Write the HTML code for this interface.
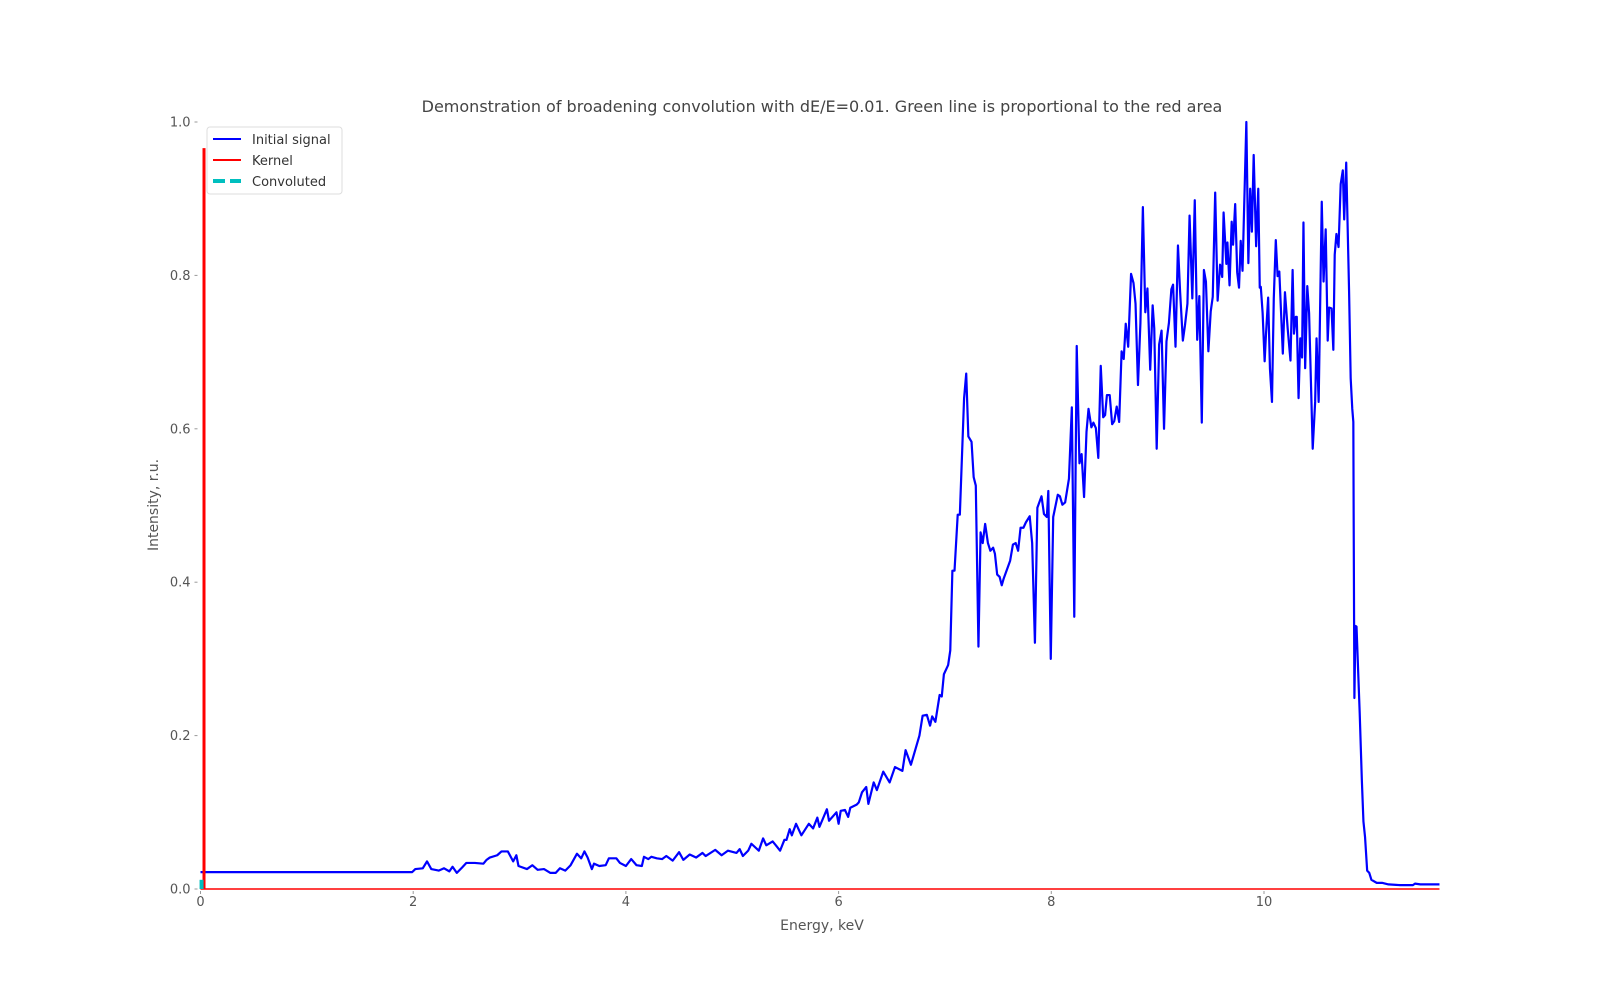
<!DOCTYPE html>
<html><head><meta charset="utf-8">
<style>
html,body{margin:0;padding:0;background:#fff;}
svg{display:block;font-family:"DejaVu Sans","Liberation Sans",sans-serif;}
</style></head>
<body>
<svg id="chart" width="1600" height="1000" viewBox="0 0 1600 1000">
<text x="822" y="112" text-anchor="middle" font-size="16" fill="#444">Demonstration of broadening convolution with dE/E=0.01. Green line is proportional to the red area</text>
<text x="822" y="930" text-anchor="middle" font-size="14" fill="#555">Energy, keV</text>
<text transform="translate(158,505) rotate(-90)" text-anchor="middle" font-size="14" fill="#555">Intensity, r.u.</text>
<g id="axes"></g>
<g id="series"></g>
<g id="legend">
 <rect x="207" y="127" width="135" height="67" rx="3" fill="#fff" fill-opacity="0.85" stroke="#ddd"/>
 <g>
  <line x1="213" y1="139" x2="241" y2="139" stroke="#0000ff" stroke-width="2"/>
  <text x="252" y="144" font-size="13" fill="#333">Initial signal</text>
 </g>
 <g>
  <line x1="213" y1="160" x2="241" y2="160" stroke="#ff0000" stroke-width="2"/>
  <text x="252" y="165" font-size="13" fill="#333">Kernel</text>
 </g>
 <g>
  <line x1="213" y1="181" x2="241" y2="181" stroke="#00bfbf" stroke-width="4" stroke-dasharray="12,5"/>
  <text x="252" y="186" font-size="13" fill="#333">Convoluted</text>
 </g>
</g>
</svg>
<script>
const energy = [0,1.99,2.02,2.09,2.13,2.17,2.24,2.29,2.34,2.37,2.41,2.46,2.50,2.58,2.66,2.69,2.72,2.79,2.83,2.89,2.94,2.97,2.99,3.07,3.12,3.17,3.23,3.29,3.34,3.38,3.43,3.48,3.54,3.58,3.61,3.64,3.68,3.70,3.75,3.81,3.84,3.91,
3.944,4.00,4.05,4.10,4.15,4.17,4.21,4.24,4.29,4.34,4.38,4.44,4.50,4.54,4.60,4.66,4.72,4.75,4.84,4.90,4.96,5.04,5.07,5.10,5.15,5.18,5.25,5.29,5.32,5.38,5.41,5.45,5.49,5.51,5.54,5.56,5.60,5.65,5.72,5.76,5.80,5.82,5.89,5.91,5.98,6.00,6.02,6.06,6.09,6.11,6.17,6.19,6.22,6.26,6.28,6.33,6.36,6.42,6.48,6.53,6.60,6.63,6.68,6.76,6.79,6.83,6.86,6.88,6.91,6.95,6.97,6.99,7.03,7.05,
7.07,7.09,7.12,7.14,7.18,7.20,7.22,7.25,7.27,7.29,7.315,7.335,7.355,7.378,7.404,7.427,7.453,7.47,7.491,7.514,7.534,7.553,7.613,7.639,7.665,7.688,7.711,7.738,7.761,7.797,7.82,7.846,7.869,7.908,7.931,7.958,7.972,7.995,8.018,8.061,8.081,8.104,8.13,8.166,8.193,8.216,8.239,8.265,8.285,8.308,8.331,8.35,8.377,8.396,8.419,8.442,8.465,8.488,8.506,8.523,8.549,8.572,8.592,8.615,8.638,8.661,8.681,8.70,8.723,8.75,8.773,8.792,8.815,8.838,8.861,8.884,8.904,8.93,8.953,8.968,8.991,9.014,9.037,9.06,9.083,9.106,9.129,9.145,9.168,9.191,9.211,9.237,9.257,9.28,9.30,9.326,9.349,9.372,9.392,9.415,9.435,9.454,9.477,9.499,9.518,9.541,9.564,9.587,9.607,9.62,9.646,9.656,9.676,9.696,9.709,9.729,9.748,9.765,9.781,9.798,9.834,9.853,9.87,9.886,9.903,9.926,9.946,9.96,9.97,9.987,10.006,10.019,10.039,10.056,10.075,10.092,10.111,10.128,10.144,10.177,10.197,10.223,10.249,10.269,10.282,10.299,10.308,10.325,10.341,10.358,10.371,10.387,10.407,10.424,10.458,10.481,10.494,10.514,10.543,10.56,10.58,10.599,10.612,10.635,10.652,10.665,10.681,10.701,10.721,10.741,10.754,10.773,10.80,10.815,10.83,10.84,
10.843,10.85,10.86,10.87,10.90,10.92,10.935,10.95,10.97,10.99,11.01,11.06,11.11,11.17,11.28,11.40,11.42,11.47,11.65];
const intensity = [0.022,0.022,0.026,0.027,0.036,0.026,0.024,0.027,0.023,0.029,0.021,0.028,0.034,0.034,0.033,0.038,0.041,0.044,0.049,0.049,0.036,0.044,0.030,0.026,0.031,0.025,0.026,0.021,0.021,0.027,0.024,0.031,0.046,0.040,0.049,0.041,0.026,0.033,0.030,0.031,0.040,0.040,
0.034,0.030,0.039,0.031,0.030,0.042,0.039,0.042,0.040,0.039,0.043,0.037,0.048,0.038,0.045,0.041,0.047,0.043,0.051,0.044,0.050,0.047,0.052,0.043,0.050,0.059,0.050,0.066,0.057,0.062,0.057,0.050,0.064,0.064,0.078,0.070,0.085,0.070,0.085,0.079,0.093,0.081,0.104,0.089,0.100,0.085,0.102,0.103,0.094,0.106,0.110,0.113,0.126,0.133,0.111,0.139,0.129,0.153,0.139,0.159,0.154,0.181,0.162,0.200,0.226,0.227,0.213,0.225,0.218,0.253,0.251,0.280,0.292,0.311,
0.415,0.415,0.488,0.488,0.640,0.672,0.590,0.583,0.537,0.526,0.316,0.465,0.451,0.476,0.451,0.441,0.445,0.437,0.410,0.407,0.396,0.405,0.428,0.449,0.451,0.441,0.471,0.471,0.478,0.486,0.451,0.321,0.497,0.512,0.489,0.485,0.519,0.300,0.485,0.514,0.512,0.501,0.504,0.535,0.628,0.355,0.708,0.555,0.567,0.511,0.596,0.626,0.602,0.608,0.601,0.562,0.682,0.615,0.618,0.644,0.644,0.606,0.610,0.629,0.609,0.701,0.691,0.737,0.707,0.802,0.790,0.763,0.657,0.738,0.889,0.752,0.783,0.677,0.761,0.731,0.574,0.710,0.728,0.600,0.714,0.738,0.782,0.788,0.707,0.839,0.779,0.715,0.735,0.763,0.878,0.770,0.898,0.716,0.773,0.608,0.807,0.792,0.701,0.753,0.772,0.908,0.767,0.814,0.798,0.882,0.815,0.843,0.787,0.870,0.840,0.893,0.804,0.784,0.845,0.806,1.0,0.816,0.913,0.857,0.957,0.838,0.913,0.784,0.785,0.751,0.688,0.724,0.771,0.678,0.635,0.770,0.846,0.799,0.805,0.698,0.778,0.730,0.689,0.807,0.724,0.746,0.746,0.640,0.718,0.693,0.869,0.679,0.786,0.751,0.574,0.635,0.718,0.635,0.896,0.792,0.860,0.715,0.758,0.757,0.703,0.827,0.854,0.837,0.919,0.937,0.873,0.947,0.779,0.666,0.626,0.609,
0.49,0.249,0.343,0.342,0.229,0.142,0.088,0.068,0.024,0.021,0.012,0.008,0.008,0.006,0.005,0.005,0.007,0.006,0.006];
const kernelE = [0.033, 0.033];
const kernelV = [0, 0.966];
const baselineE = [0, 11.65];
const baselineV = [0, 0];
const convE = [0.01, 0.01];
const convV = [0, 0.012];
const xTicks = [0, 2, 4, 6, 8, 10];
const yTicks = [0.0, 0.2, 0.4, 0.6, 0.8, 1.0];

const X0 = 200.5, XS = 106.35, Y0 = 889, YS = 767;
function sx(e){ return X0 + e * XS; }
function sy(v){ return Y0 - v * YS; }
const NS = 'http://www.w3.org/2000/svg';
const axes = document.getElementById('axes');
const series = document.getElementById('series');

xTicks.forEach(t => {
  const l = document.createElementNS(NS, 'line');
  l.setAttribute('x1', sx(t)); l.setAttribute('x2', sx(t));
  l.setAttribute('y1', Y0 + 2); l.setAttribute('y2', Y0 + 5);
  l.setAttribute('stroke', '#999'); l.setAttribute('stroke-width', '1');
  
  
  axes.appendChild(l);
  const tx = document.createElementNS(NS, 'text');
  tx.setAttribute('x', sx(t)); tx.setAttribute('y', Y0 + 17);
  tx.setAttribute('text-anchor', 'middle'); tx.setAttribute('font-size', '13'); tx.setAttribute('fill', '#555');
  tx.textContent = String(t);
  
  
  axes.appendChild(tx);
});
yTicks.forEach(t => {
  const l = document.createElementNS(NS, 'line');
  l.setAttribute('x1', X0 - 6); l.setAttribute('x2', X0 - 3);
  l.setAttribute('y1', sy(t)); l.setAttribute('y2', sy(t));
  l.setAttribute('stroke', '#999'); l.setAttribute('stroke-width', '1');
  
  
  axes.appendChild(l);
  const tx = document.createElementNS(NS, 'text');
  tx.setAttribute('x', X0 - 10); tx.setAttribute('y', sy(t) + 4.5);
  tx.setAttribute('text-anchor', 'end'); tx.setAttribute('font-size', '13'); tx.setAttribute('fill', '#555');
  tx.textContent = t.toFixed(1);
  
  
  axes.appendChild(tx);
});

function poly(xs, ys, color, width, name, dash){
  const p = document.createElementNS(NS, 'polyline');
  p.setAttribute('points', xs.map((e,i) => sx(e).toFixed(2) + ',' + sy(ys[i]).toFixed(2)).join(' '));
  p.setAttribute('fill', 'none'); p.setAttribute('stroke', color); p.setAttribute('stroke-width', width);
  p.setAttribute('stroke-linejoin', 'round');
  if (dash) p.setAttribute('stroke-dasharray', dash);
  
  
  series.appendChild(p);
}
poly(baselineE, baselineV, '#ff0000', 1.5, 'kernel-baseline');
poly(energy, intensity, '#0000ff', 2.2, 'initial-signal-line');
poly(kernelE, kernelV, '#ff0000', 3, 'kernel-line');
poly(convE, convV, '#00bfbf', 4, 'convoluted-line');
</script>
</body></html>
